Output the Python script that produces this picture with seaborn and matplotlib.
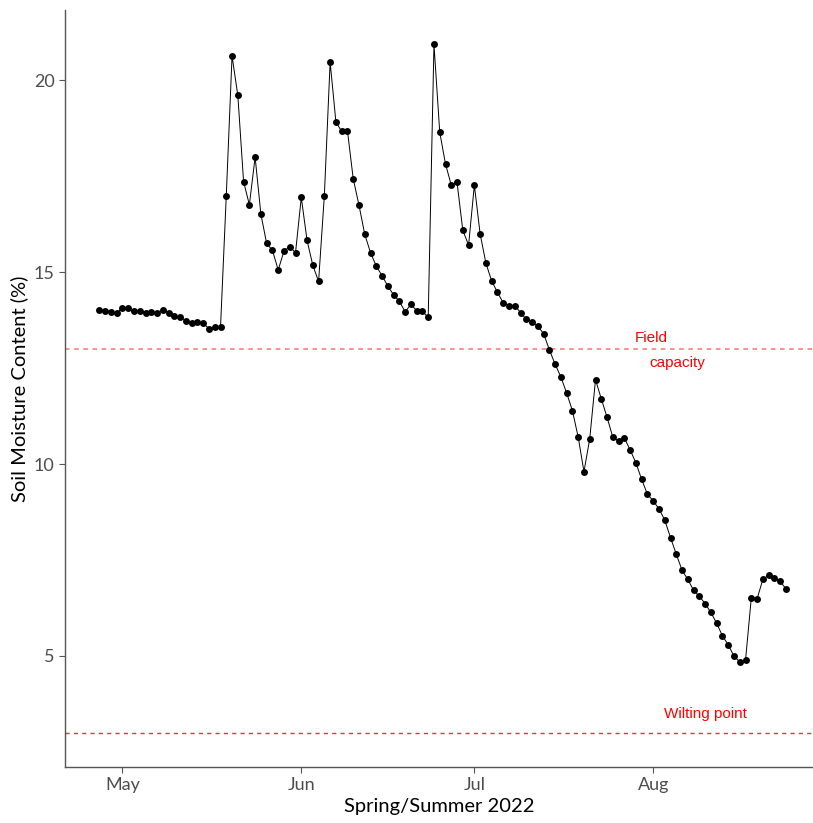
import numpy as np
import pandas as pd
import seaborn as sns
import matplotlib
matplotlib.use('Agg')
import matplotlib.pyplot as plt
import matplotlib.dates as mdates

# daily soil moisture, 27 Apr - 24 Aug 2022
start_date = '2022-04-27'
moisture = [14.01, 13.99, 13.97, 13.94, 14.06, 14.06, 13.98, 13.99, 13.94, 13.97,
            13.94, 14.02, 13.94, 13.85, 13.84, 13.73, 13.67, 13.70, 13.67, 13.53,
            13.57, 13.57, 17.00, 20.64, 19.61, 17.36, 16.76, 18.00, 16.51, 15.75,
            15.57, 15.06, 15.55, 15.67, 15.51, 16.95, 15.83, 15.18, 14.76, 17.00,
            20.48, 18.92, 18.67, 18.69, 17.44, 16.75, 15.99, 15.51, 15.16, 14.91,
            14.64, 14.41, 14.24, 13.97, 14.16, 14.00, 13.98, 13.82, 20.94, 18.65,
            17.82, 17.27, 17.34, 16.09, 15.71, 17.27, 16.00, 15.24, 14.77, 14.48,
            14.20, 14.13, 14.13, 13.95, 13.77, 13.71, 13.59, 13.40, 12.98, 12.60,
            12.27, 11.85, 11.39, 10.70, 9.80, 10.66, 12.20, 11.70, 11.22, 10.70,
            10.60, 10.68, 10.37, 10.03, 9.60, 9.21, 9.04, 8.83, 8.54, 8.08,
            7.65, 7.23, 6.99, 6.71, 6.55, 6.36, 6.13, 5.85, 5.52, 5.29,
            4.99, 4.84, 4.88, 6.50, 6.48, 6.99, 7.10, 7.04, 6.94, 6.75]

field_capacity = 13
wilting_point = 3

df = pd.DataFrame({'date': pd.date_range(start_date, periods=len(moisture), freq='D'),
                   'moisture': moisture})

sns.set_theme(style='ticks')
plt.rcParams['font.family'] = ['Lato', 'DejaVu Sans']

fig = plt.figure(figsize=(8.13, 8.23), dpi=100)
ax = fig.add_axes([0.08, 0.068, 0.92, 0.92])

ax.axhline(field_capacity, color='#ff7070', linestyle=(0, (3, 3)), linewidth=1.1, zorder=1)
ax.axhline(wilting_point, color='#e8303a', linestyle=(0, (3, 3)), linewidth=1.0, zorder=1)

sns.lineplot(data=df, x='date', y='moisture', color='black', linewidth=0.7,
             marker='o', markersize=5, markeredgewidth=0, ax=ax, zorder=3)

d0 = df['date'].iloc[0]
ax.text(d0 + pd.Timedelta(days=95.6), 13.29, 'Field', color='red', fontsize=11,
        family='Liberation Sans', ha='center', va='center')
ax.text(d0 + pd.Timedelta(days=100.1), 12.64, 'capacity', color='red', fontsize=11,
        family='Liberation Sans', ha='center', va='center')
ax.text(d0 + pd.Timedelta(days=105), 3.47, 'Wilting point', color='red', fontsize=11,
        family='Liberation Sans', ha='center', va='center')

ax.set_xlim(d0 - pd.Timedelta(days=5.95), d0 + pd.Timedelta(days=123.7))
ax.set_ylim(2.1, 21.84)
ax.set_yticks([5, 10, 15, 20])
ax.xaxis.set_major_locator(mdates.MonthLocator(bymonth=[5, 6, 7, 8]))
ax.xaxis.set_major_formatter(mdates.DateFormatter('%b'))

ax.set_xlabel('Spring/Summer 2022', fontsize=14.5, color='black', labelpad=3)
ax.set_ylabel('Soil Moisture Content (%)', fontsize=14.5, color='black', labelpad=4)
ax.tick_params(axis='both', labelsize=13, labelcolor='#4d4d4d', color='#555555',
               length=4, width=0.8)
for s in ['left', 'bottom']:
    ax.spines[s].set_color('#555555')
    ax.spines[s].set_linewidth(1.0)
sns.despine(ax=ax)

fig.savefig('out.png', dpi=100)
